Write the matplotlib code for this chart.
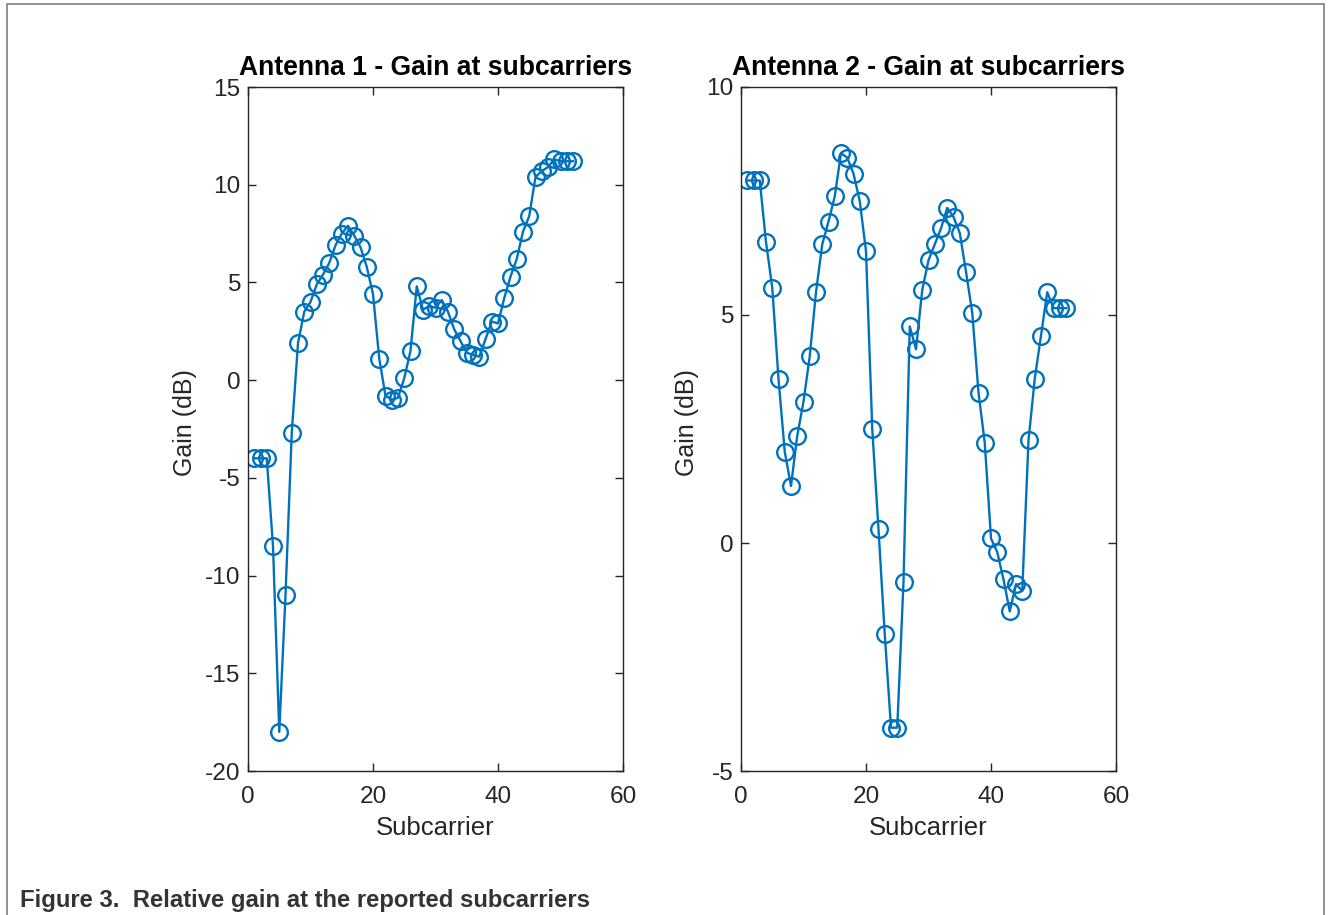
import matplotlib
matplotlib.use("Agg")
import matplotlib.pyplot as plt
from matplotlib.patches import Rectangle

# subcarrier index 1..52
subcarriers = list(range(1, 53))

gain_ant1 = [-4.0, -4.0, -4.0, -8.5, -18.0, -11.0, -2.7, 1.9, 3.5, 4.0,
             4.9, 5.4, 6.0, 6.9, 7.5, 7.9, 7.4, 6.8, 5.8, 4.4,
             1.1, -0.8, -1.0, -0.9, 0.1, 1.5, 4.8, 3.6, 3.8, 3.7,
             4.1, 3.5, 2.6, 2.0, 1.4, 1.3, 1.2, 2.1, 3.0, 2.9,
             4.2, 5.3, 6.2, 7.6, 8.4, 10.4, 10.7, 10.9, 11.3, 11.2,
             11.2, 11.2]

gain_ant2 = [7.95, 7.95, 7.95, 6.6, 5.6, 3.6, 2.0, 1.25, 2.35, 3.1,
             4.1, 5.5, 6.55, 7.05, 7.6, 8.55, 8.45, 8.1, 7.5, 6.4,
             2.5, 0.3, -2.0, -4.05, -4.05, -0.85, 4.75, 4.25, 5.55, 6.2,
             6.55, 6.9, 7.35, 7.15, 6.8, 5.95, 5.05, 3.3, 2.2, 0.1,
             -0.2, -0.8, -1.5, -0.9, -1.05, 2.25, 3.6, 4.55, 5.5, 5.15,
             5.15, 5.15]

titles = ['Antenna 1 - Gain at subcarriers', 'Antenna 2 - Gain at subcarriers']
ylims = [(-20, 15), (-5, 10)]
yticks = [[-20, -15, -10, -5, 0, 5, 10, 15], [-5, 0, 5, 10]]
xticks = [0, 20, 40, 60]

plt.rcParams['font.family'] = ['Liberation Sans', 'DejaVu Sans']
plt.rcParams['axes.unicode_minus'] = False

axcol = '#262626'
linecol = '#0072BD'

fig = plt.figure(figsize=(13.3, 9.15), dpi=100)

positions = [[248 / 1330, 1 - 771 / 915, 375 / 1330, 684 / 915],
             [741 / 1330, 1 - 771 / 915, 375 / 1330, 684 / 915]]
ylabel_x = [-0.136, -0.111]

for i, gains in enumerate([gain_ant1, gain_ant2]):
    ax = fig.add_axes(positions[i])
    ax.plot(subcarriers, gains, color=linecol, linewidth=1.7, marker='o',
            markersize=12, markerfacecolor='none', markeredgewidth=1.7)
    ax.set_xlim(0, 60)
    ax.set_ylim(*ylims[i])
    ax.set_xticks(xticks)
    ax.set_yticks(yticks[i])
    ax.tick_params(direction='in', length=6, width=1, colors=axcol,
                   labelsize=17.6, top=True, right=True)
    ax.tick_params(axis='x', pad=10.5)
    ax.tick_params(axis='y', pad=5.5)
    for s in ax.spines.values():
        s.set_color(axcol)
        s.set_linewidth(1)
    ax.set_xlabel('Subcarrier', fontsize=18.5, color=axcol)
    ax.set_ylabel('Gain (dB)', fontsize=18, color=axcol)
    ax.xaxis.set_label_coords(0.5, -0.066)
    ax.yaxis.set_label_coords(ylabel_x[i], 0.51)
    ax.set_title(titles[i], fontsize=19.1, fontweight='bold', color='black', pad=8.5)

# frame around the figure
fig.patches.append(Rectangle((7 / 1330, -0.05), 1317 / 1330, 1.05 - 4 / 915,
                             transform=fig.transFigure, fill=False,
                             edgecolor='#7f7f7f', linewidth=1.2))

fig.text(20 / 1330, 1 - 900 / 915, 'Figure 3.  Relative gain at the reported subcarriers',
         fontsize=17.2, fontweight='bold', color='#333333', va='center', ha='left')

fig.savefig('out.png', dpi=100)
